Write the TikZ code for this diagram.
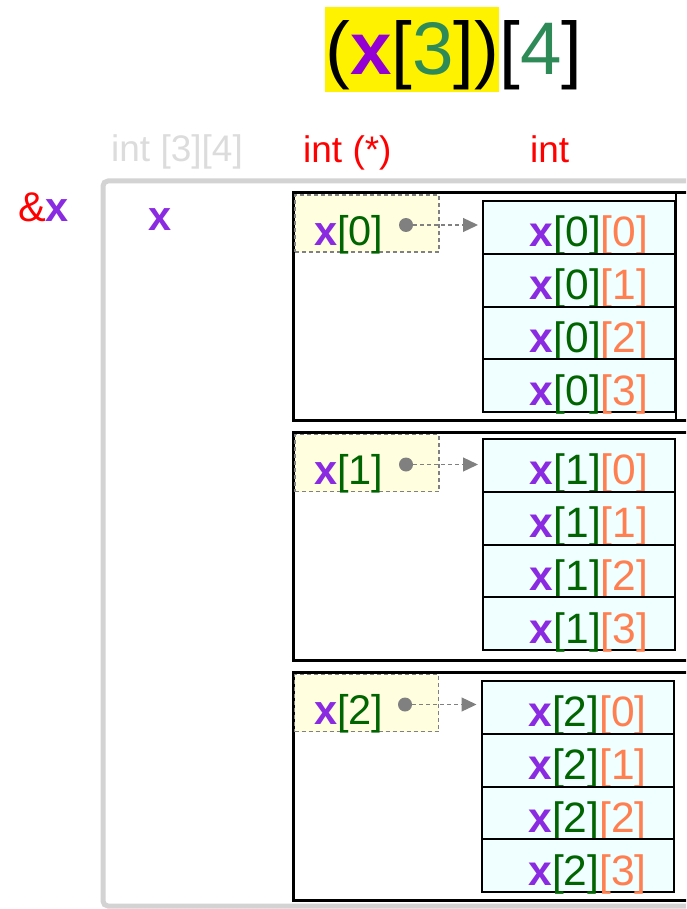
\documentclass[tikz,border=0pt]{standalone}
\usepackage{fontspec}
\setmainfont{Liberation Sans}
\usetikzlibrary{arrows.meta,calc}
\definecolor{xpurple}{HTML}{8A2BE2}
\definecolor{tpurple}{HTML}{9400D3}
\definecolor{igreen}{HTML}{006400}
\definecolor{sgreen}{HTML}{2E8B57}
\definecolor{icoral}{HTML}{FF7F50}
\definecolor{cellfill}{HTML}{F0FFFF}
\definecolor{yfill}{HTML}{FFFFE0}
\definecolor{framegray}{HTML}{D3D3D3}
\definecolor{typegray}{HTML}{DCDCDC}
\tikzset{
  big/.style={font=\fontsize{74.5}{80}\selectfont, inner sep=0pt},
  lbl/.style={font=\fontsize{37}{40}\selectfont, inner sep=0pt, anchor=base west},
  txt/.style={font=\fontsize{41.5}{45}\selectfont, inner sep=0pt, anchor=base west},
  outerframe/.style={draw=framegray, line width=5pt, rounded corners=5pt},
  rowbox/.style={draw=black, line width=3pt},
  ybox/.style={draw=gray, fill=yfill, dash pattern=on 4pt off 3pt, line width=1.8pt, inner sep=0pt, minimum width=144pt, minimum height=57pt},
  cell/.style={draw=black, fill=cellfill, line width=2pt, inner sep=0pt, minimum width=192pt, text height=45.75pt, text depth=7pt, font=\fontsize{42.5}{45}\selectfont},
  dotnode/.style={circle, fill=gray, inner sep=0pt, minimum size=14pt},
  ptr/.style={draw=gray, dash pattern=on 4pt off 3pt, line width=1.3pt, -{Triangle[length=15pt,width=14pt]}, shorten >=4pt}
}
\begin{document}
\begin{tikzpicture}[x=1pt,y=-1pt]
\useasboundingbox (0,0) rectangle (686,909);
\clip (0,0) rectangle (686,909);
% title
\node[big, fill=yellow, anchor=base west, text height=68pt, text depth=17pt] (hl) at (325,75) {(\textcolor{tpurple}{\bfseries x}[\textcolor{sgreen}{3}])};
\node[big, anchor=base west] (t4) at (hl.base east) {[\textcolor{sgreen}{4}]};
% type labels
\node[lbl, text=typegray] (tarr) at (111,162) {int [3][4]};
\node[lbl, text=red] (tptr) at (303,163) {int (*)};
\node[lbl, text=red] (tint) at (530,163) {int};
\node[txt] (addr) at (18,222) {\textcolor{red}{\&}\textcolor{xpurple}{\bfseries x}};
% outer frame
\draw[outerframe] (103,181) rectangle (900,906);
\node[txt] (xname) at (148,230) {\textcolor{xpurple}{\bfseries x}};
% row boxes
\draw[rowbox] (293,193) rectangle (800,420);
\draw[black, line width=2.5pt] (676,193) -- (676,420);
\draw[rowbox] (293,432) rectangle (800,660);
\draw[rowbox] (293,672) rectangle (800,900);
% cells
\foreach \r/\ty/\cx in {0/201/579,1/439/579,2/681/577.5}{
  \foreach \c in {0,...,3}{
    \node[cell] (c\r\c) at (\cx,{\ty+26.375+52.75*\c}) {\hspace*{20pt}\textcolor{xpurple}{\bfseries x}\textcolor{igreen}{[\r]}\textcolor{icoral}{[\c]}};
  }
}
% pointer boxes
\foreach \r/\yy/\yx/\dx in {0/223.5/367/406,1/463/367/406,2/703/366.5/405}{
  \node[ybox] (y\r) at (\yx,\yy) {};
  \node[txt] (yt\r) at (314,{\yy+21.5}) {\textcolor{xpurple}{\bfseries x}\textcolor{igreen}{[\r]}};
  \node[dotnode] (d\r) at (\dx,{\yy+1.5}) {};
  \draw[ptr] (d\r) -- (c\r0.west |- d\r);
}
\end{tikzpicture}
\end{document}
